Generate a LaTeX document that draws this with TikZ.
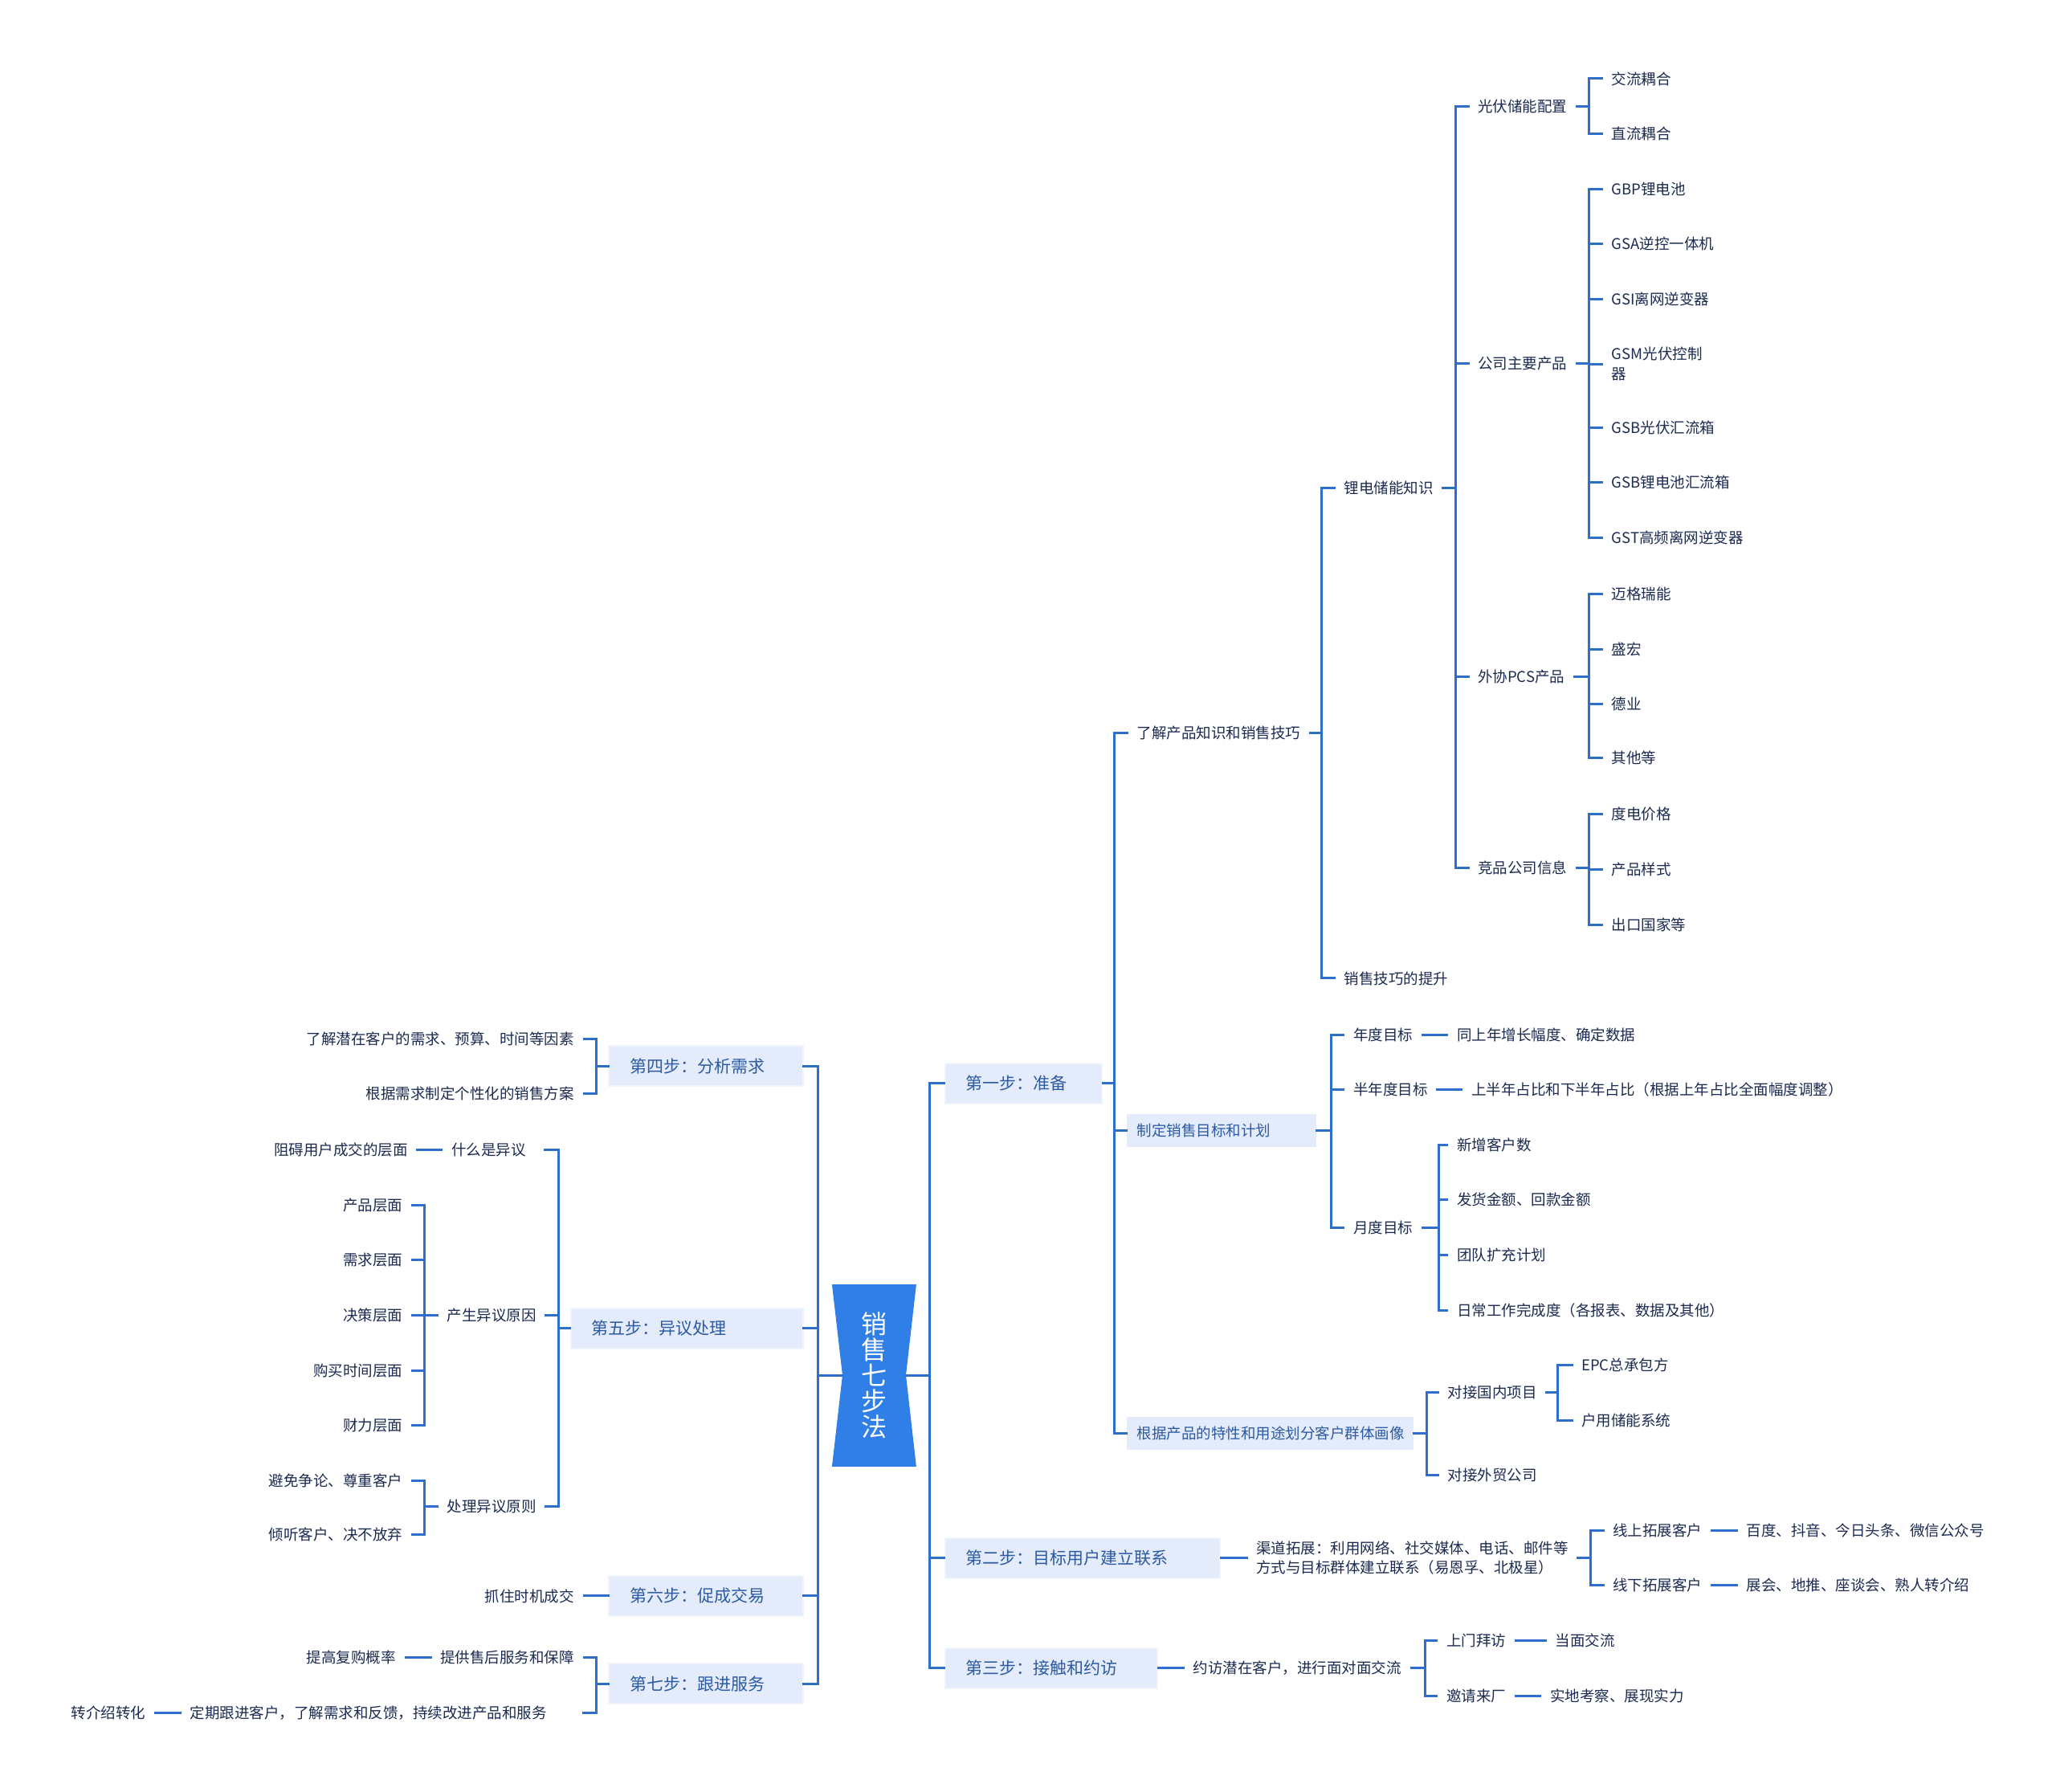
\documentclass[tikz,border=0pt]{standalone}
\usepackage{fontspec}
\setmainfont{Noto Sans CJK SC}
\usetikzlibrary{calc}
\definecolor{lineblue}{HTML}{2F6FCC}
\definecolor{rootblue}{HTML}{2F7FE6}
\definecolor{boxfill}{HTML}{E4ECFB}
\definecolor{boxedge}{HTML}{EFF4FD}
\definecolor{steptext}{HTML}{2C5AA3}
\definecolor{txt}{HTML}{1C2A50}
\newcommand{\fsz}{\fontsize{18.5}{24.5}\selectfont}
\newcommand{\rfan}[5]{%
  \draw[ln] (#1.east) -- (#1.east -| #2);
  \draw[ln] (#2 |- #3.west) -- (#2 |- #4.west);
  \foreach \c in {#5}{\draw[ln] (#2 |- \c.west) -- (\c.west);}}
\newcommand{\lfan}[5]{%
  \draw[ln] (#1.west) -- (#1.west -| #2);
  \draw[ln] (#2 |- #3.east) -- (#2 |- #4.east);
  \foreach \c in {#5}{\draw[ln] (#2 |- \c.east) -- (\c.east);}}
\tikzset{
  ln/.style={draw=lineblue, line width=3pt, line cap=rect},
  rt/.style={anchor=west, xshift=-12pt, inner xsep=12pt, inner ysep=2pt, text=txt, font=\fsz, align=left},
  lt/.style={anchor=east, xshift=12pt, inner xsep=12pt, inner ysep=2pt, text=txt, font=\fsz, align=left},
  stepbox/.style={fill=boxfill, draw=boxedge, line width=2pt, text=steptext, font=\fontsize{21}{25}\selectfont, inner xsep=26pt, inner ysep=0pt, minimum height=50pt, align=left},
  subbox/.style={fill=boxfill, text=steptext, font=\fsz, inner xsep=13pt, inner ysep=0pt, minimum height=41pt, align=left, anchor=west},
}
\begin{document}
\begin{tikzpicture}[x=1.6327pt,y=-1.6327pt]
\useasboundingbox (0,0) rectangle (1568,1366);

% root
\fill[rootblue] (634.5,979.4) -- (698.8,979.4) -- (690.9,1048.6) -- (698.8,1118.4) -- (634.5,1118.4) -- (642.5,1048.6) -- cycle;
\node[inner sep=0pt, minimum width=79pt, minimum height=227pt, text=white, align=center, font=\fontsize{32}{32}\selectfont] (root) at (666.7,1048.6) {销\\售\\七\\步\\法};

% vertical line positions
\coordinate (vR0) at (709,0);
\coordinate (vR1) at (850,0);
\coordinate (vR2) at (1008,0);
\coordinate (vR3) at (1110,0);
\coordinate (vR4) at (1212,0);
\coordinate (vR5) at (1015,0);
\coordinate (vR6) at (1097,0);
\coordinate (vR7) at (1088,0);
\coordinate (vR8) at (1188,0);
\coordinate (vR9) at (1213,0);
\coordinate (vR10) at (1087,0);
\coordinate (vL0) at (624,0);
\coordinate (vL1) at (455,0);
\coordinate (vL2) at (426,0);
\coordinate (vL3) at (324,0);
\coordinate (vL5) at (455,0);

% ---------- right side ----------
\node[stepbox, text width=143.9pt, anchor=west] (b1) at (720,826) {第一步：准备};
\node[stepbox, text width=290.9pt, anchor=west] (b2) at (720,1188) {第二步：目标用户建立联系};
\node[stepbox, text width=212.5pt, anchor=west] (b3) at (720,1272) {第三步：接触和约访};

\node[rt] (t1) at (867,559) {了解产品知识和销售技巧};
\node[subbox, text width=210.7pt] (t2) at (859,862) {制定销售目标和计划};
\node[subbox, text width=331.6pt] (t3) at (859,1093) {根据产品的特性和用途划分客户群体画像};

\node[rt] (t11) at (1025,372) {锂电储能知识};
\node[rt] (t12) at (1025,746) {销售技巧的提升};

\node[rt] (t111) at (1127,81) {光伏储能配置};
\node[rt] (t112) at (1127,277) {公司主要产品};
\node[rt] (t113) at (1127,516) {外协PCS产品};
\node[rt] (t114) at (1127,662) {竞品公司信息};

\node[rt] (a1) at (1229,60) {交流耦合};
\node[rt] (a2) at (1229,102) {直流耦合};

\node[rt] (p1) at (1229,144) {GBP锂电池};
\node[rt] (p2) at (1229,186) {GSA逆控一体机};
\node[rt] (p3) at (1229,228) {GSI离网逆变器};
\node[rt] (p4) at (1229,277.5) {GSM光伏控制\\器};
\node[rt] (p5) at (1229,326) {GSB光伏汇流箱};
\node[rt] (p6) at (1229,368) {GSB锂电池汇流箱};
\node[rt] (p7) at (1229,410) {GST高频离网逆变器};

\node[rt] (q1) at (1229,453) {迈格瑞能};
\node[rt] (q2) at (1229,495) {盛宏};
\node[rt] (q3) at (1229,537) {德业};
\node[rt] (q4) at (1229,578) {其他等};

\node[rt] (r1) at (1229,621) {度电价格};
\node[rt] (r2) at (1229,663) {产品样式};
\node[rt] (r3) at (1229,705) {出口国家等};

\node[rt] (g1) at (1032,789) {年度目标};
\node[rt] (g1d) at (1111,789) {同上年增长幅度、确定数据};
\node[rt] (g2) at (1032,831) {半年度目标};
\node[rt] (g2d) at (1122,831) {上半年占比和下半年占比（根据上年占比全面幅度调整）};
\node[rt] (g3) at (1032,936) {月度目标};
\node[rt] (m1) at (1111,873) {新增客户数};
\node[rt] (m2) at (1111,915) {发货金额、回款金额};
\node[rt] (m3) at (1111,957) {团队扩充计划};
\node[rt] (m4) at (1111,999) {日常工作完成度（各报表、数据及其他）};

\node[rt] (h1) at (1104,1062) {对接国内项目};
\node[rt] (h2) at (1104,1125) {对接外贸公司};
\node[rt] (e1) at (1206,1041) {EPC总承包方};
\node[rt] (e2) at (1206,1083) {户用储能系统};

\node[rt] (c1) at (958,1188) {渠道拓展：利用网络、社交媒体、电话、邮件等\\方式与目标群体建立联系（易恩孚、北极星）};
\node[rt] (o1) at (1230,1167) {线上拓展客户};
\node[rt] (o1d) at (1332,1167) {百度、抖音、今日头条、微信公众号};
\node[rt] (o2) at (1230,1209) {线下拓展客户};
\node[rt] (o2d) at (1332,1209) {展会、地推、座谈会、熟人转介绍};

\node[rt] (d1) at (910,1272) {约访潜在客户，进行面对面交流};
\node[rt] (s1) at (1103,1251) {上门拜访};
\node[rt] (s1d) at (1186,1251) {当面交流};
\node[rt] (s2) at (1103,1293) {邀请来厂};
\node[rt] (s2d) at (1182,1293) {实地考察、展现实力};

% ---------- left side ----------
\node[stepbox, text width=189.6pt, anchor=east] (b4) at (613,813) {第四步：分析需求};
\node[stepbox, text width=237pt, anchor=east] (b5) at (613,1013) {第五步：异议处理};
\node[stepbox, text width=189.6pt, anchor=east] (b6) at (613,1217) {第六步：促成交易};
\node[stepbox, text width=189.6pt, anchor=east] (b7) at (613,1284) {第七步：跟进服务};

\node[lt] (k1) at (438,792) {了解潜在客户的需求、预算、时间等因素};
\node[lt] (k2) at (438,834) {根据需求制定个性化的销售方案};

\node[lt] (w1) at (401,877) {什么是异议};
\node[lt] (w1d) at (311,877) {阻碍用户成交的层面};
\node[lt] (w2) at (409,1003) {产生异议原因};
\node[lt] (w3) at (409,1149) {处理异议原则};
\node[lt] (y1) at (307,919) {产品层面};
\node[lt] (y2) at (307,961) {需求层面};
\node[lt] (y3) at (307,1003) {决策层面};
\node[lt] (y4) at (307,1045) {购买时间层面};
\node[lt] (y5) at (307,1087) {财力层面};
\node[lt] (z1) at (307,1129) {避免争论、尊重客户};
\node[lt] (z2) at (307,1170) {倾听客户、决不放弃};

\node[lt] (u1) at (438,1217) {抓住时机成交};

\node[lt] (f1) at (438,1264) {提供售后服务和保障};
\node[lt] (f1d) at (302,1264) {提高复购概率};
\node[lt] (f2) at (417,1306) {定期跟进客户，了解需求和反馈，持续改进产品和服务};
\node[lt] (f2d) at (111,1306) {转介绍转化};

% ---------- connectors ----------
\draw[ln] (root.east) -- (root.east -| vR0);
\draw[ln] (root.west) -- (root.west -| vL0);
\draw[ln] (vR0 |- b1.west) -- (vR0 |- b3.west);
\foreach \c in {b1,b2,b3}{\draw[ln] (vR0 |- \c.west) -- (\c.west);}
\draw[ln] (vL0 |- b4.east) -- (vL0 |- b7.east);
\foreach \c in {b4,b5,b6,b7}{\draw[ln] (vL0 |- \c.east) -- (\c.east);}

\rfan{b1}{vR1}{t1}{t3}{t1,t2,t3}
\rfan{t1}{vR2}{t11}{t12}{t11,t12}
\rfan{t11}{vR3}{t111}{t114}{t111,t112,t113,t114}
\rfan{t111}{vR4}{a1}{a2}{a1,a2}
\rfan{t112}{vR4}{p1}{p7}{p1,p2,p3,p4,p5,p6,p7}
\rfan{t113}{vR4}{q1}{q4}{q1,q2,q3,q4}
\rfan{t114}{vR4}{r1}{r3}{r1,r2,r3}
\rfan{t2}{vR5}{g1}{g3}{g1,g2,g3}
\draw[ln] (g1.east) -- (g1d.west);
\draw[ln] (g2.east) -- (g2d.west);
\rfan{g3}{vR6}{m1}{m4}{m1,m2,m3,m4}
\rfan{t3}{vR7}{h1}{h2}{h1,h2}
\rfan{h1}{vR8}{e1}{e2}{e1,e2}
\draw[ln] (b2.east) -- (c1.west);
\rfan{c1}{vR9}{o1}{o2}{o1,o2}
\draw[ln] (o1.east) -- (o1d.west);
\draw[ln] (o2.east) -- (o2d.west);
\draw[ln] (b3.east) -- (d1.west);
\rfan{d1}{vR10}{s1}{s2}{s1,s2}
\draw[ln] (s1.east) -- (s1d.west);
\draw[ln] (s2.east) -- (s2d.west);

\lfan{b4}{vL1}{k1}{k2}{k1,k2}
\lfan{b5}{vL2}{w1}{w3}{w2,w3}
\draw[ln, shorten >=12pt] (vL2 |- w1.east) -- (w1.east);
\draw[ln] (w1.west) -- (w1d.east);
\lfan{w2}{vL3}{y1}{y5}{y1,y2,y3,y4,y5}
\lfan{w3}{vL3}{z1}{z2}{z1,z2}
\draw[ln] (b6.west) -- (u1.east);
\lfan{b7}{vL5}{f1}{f2}{f1}
\draw[ln, shorten >=33.6pt] (vL5 |- f2.east) -- (f2.east);
\draw[ln] (f1.west) -- (f1d.east);
\draw[ln] (f2.west) -- (f2d.east);
\end{tikzpicture}
\end{document}
